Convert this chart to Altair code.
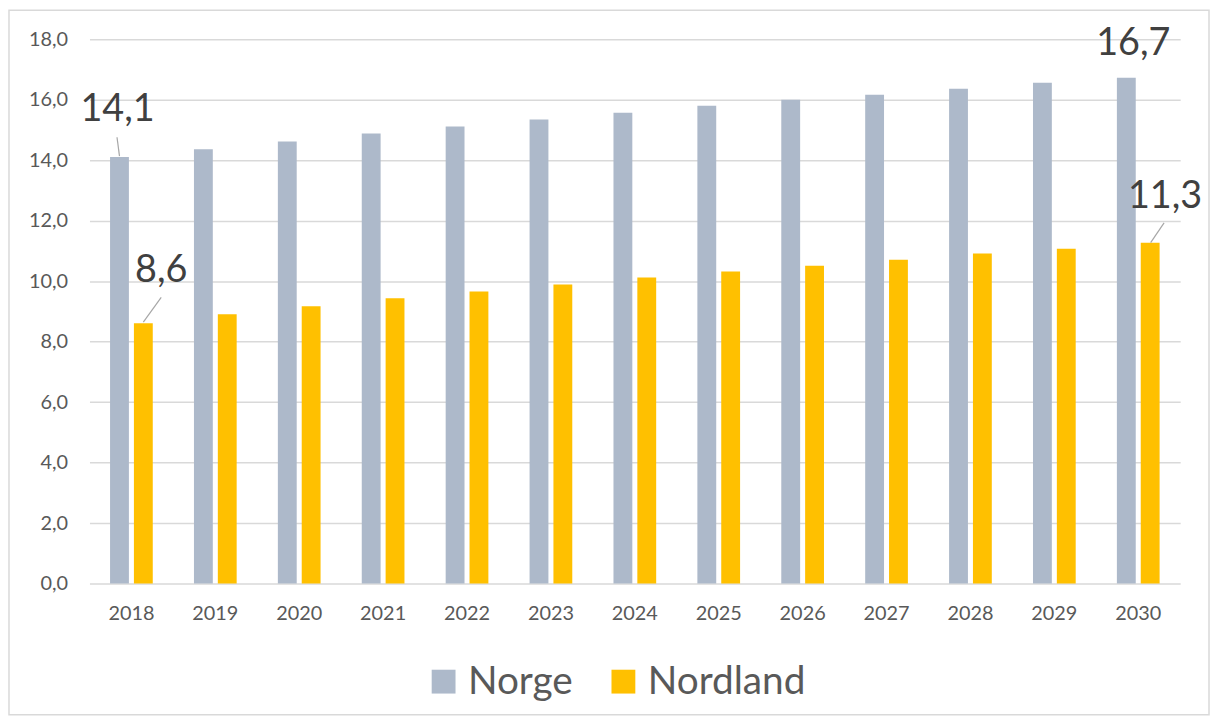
import altair as alt
import pandas as pd

years = ["2018", "2019", "2020", "2021", "2022", "2023", "2024",
         "2025", "2026", "2027", "2028", "2029", "2030"]
norge = [14.1, 14.36, 14.62, 14.88, 15.11, 15.34, 15.57, 15.80, 16.0, 16.16, 16.36, 16.56, 16.72]
nordland = [8.61, 8.90, 9.17, 9.43, 9.66, 9.89, 10.12, 10.32, 10.51, 10.71, 10.91, 11.07, 11.27]
series = ["Norge", "Nordland"]
colors = ["#ADB9CA", "#FFC000"]

rows = []
for i, yr in enumerate(years):
    rows.append({"year": yr, "series": "Norge", "value": norge[i]})
    rows.append({"year": yr, "series": "Nordland", "value": nordland[i]})
df = pd.DataFrame(rows)

FONT = "Lato"

x_enc = alt.X(
    "year:O", sort=years, bandPosition=0.5,
    scale=alt.Scale(paddingInner=0.491, paddingOuter=0.2455),
    axis=alt.Axis(title=None, labelAngle=0, labelFont=FONT, labelFontSize=20,
                  labelColor="#595959", labelPadding=20, ticks=False,
                  domain=False, grid=False),
)
y_enc = alt.Y(
    "value:Q",
    scale=alt.Scale(domain=[0, 18], nice=False),
    axis=alt.Axis(title=None, values=list(range(0, 20, 2)),
                  labelExpr="replace(format(datum.value, '.1f'), '.', ',')",
                  labelFont=FONT, labelFontSize=20, labelColor="#595959",
                  labelPadding=22, ticks=False, domain=False,
                  gridColor="#D9D9D9", gridWidth=1.5),
)

bars = alt.Chart(df).mark_bar().encode(
    x=x_enc,
    y=y_enc,
    xOffset=alt.XOffset("series:N", sort=series,
                        scale=alt.Scale(paddingInner=0.21, paddingOuter=0)),
    color=alt.Color(
        "series:N", sort=series,
        scale=alt.Scale(domain=series, range=colors),
        legend=alt.Legend(
            title=None, orient="none", legendX=337, legendY=627,
            direction="horizontal", symbolType="square", symbolSize=576,
            symbolStrokeWidth=0, labelFont=FONT, labelFontSize=39,
            labelColor="#595959", labelOffset=5, columnPadding=31, padding=0,
        ),
    ),
)

# annotations: (year, series, text dx, text dy)
annotations = [
    ("2018", "Norge", -14, -36),
    ("2018", "Nordland", 30, -41),
    ("2030", "Norge", -5, -23),
    ("2030", "Nordland", 27, -35),
]

layers = [bars]
for yr, s, dx, dy in annotations:
    t = alt.Chart(df).transform_filter(
        (alt.datum.year == yr) & (alt.datum.series == s)
    ).transform_calculate(
        label="replace(format(datum.value, '.1f'), '.', ',')"
    ).mark_text(
        font=FONT, fontSize=38, color="#404040", dx=dx, dy=dy,
        baseline="alphabetic", align="center",
    ).encode(
        x=alt.X("year:O", sort=years, bandPosition=0.5),
        y="value:Q",
        text="label:N",
    )
    layers.append(t)

# leader lines: (year, series, x top, x bottom, y top, y bottom) offsets
leaders = [
    ("2018", "Norge", -14.5, -12, -20, -1),
    ("2018", "Nordland", 30, 12, -26, -1),
    ("2030", "Nordland", 26, 12.5, -20, 0),
]
for yr, s, xo, x2o, yo, y2o in leaders:
    r = alt.Chart(df).transform_filter(
        (alt.datum.year == yr) & (alt.datum.series == s)
    ).mark_rule(
        color="#A6A6A6", strokeWidth=1.2,
        xOffset=xo, x2Offset=x2o, yOffset=yo, y2Offset=y2o,
    ).encode(
        x=alt.X("year:O", sort=years, bandPosition=0.5),
        x2=alt.X2("year", bandPosition=0.5),
        y="value:Q",
        y2=alt.Y2("value"),
    )
    layers.append(r)

frame = alt.Chart(alt.Data(values=[{"a": 1}])).mark_rect(
    fill=None, fillOpacity=0, stroke="#D9D9D9", strokeWidth=1.5
).encode(
    x=alt.value(-81), x2=alt.value(1127), y=alt.value(-29), y2=alt.value(680)
)
layers.append(frame)

chart = alt.layer(*layers).properties(
    width=1098, height=548,
    autosize=alt.AutoSizeParams(type="none"),
    padding={"left": 82, "top": 29, "right": 30, "bottom": 135},
    background="white",
).configure_view(stroke=None)

chart.save("out.html", embed_options={"renderer": "svg", "actions": False})
